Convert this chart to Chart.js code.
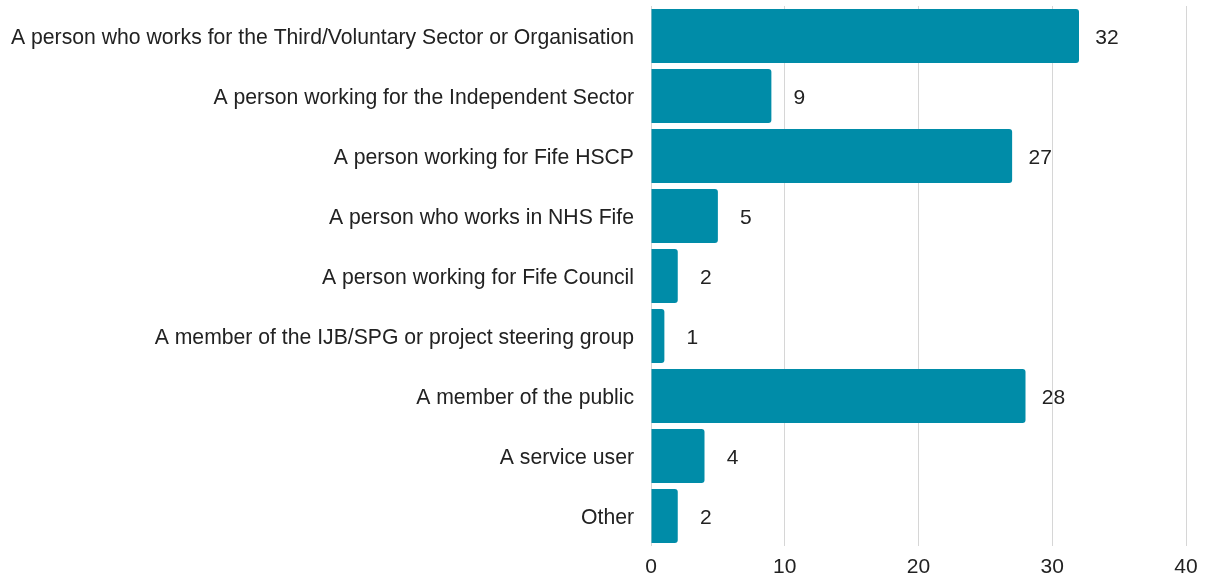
<!DOCTYPE html>
<html>
<head>
<meta charset="utf-8">
<script src="https://cdn.jsdelivr.net/npm/chart.js@4/dist/chart.umd.min.js"></script>
<style>
  html, body { margin: 0; padding: 0; background: #fff; }
  #wrap { width: 1210px; height: 583px; }
</style>
</head>
<body>
<div id="wrap"><canvas id="chart"></canvas></div>
<script>
const categories = [
  "A person who works for the Third/Voluntary Sector or Organisation",
  "A person working for the Independent Sector",
  "A person working for Fife HSCP",
  "A person who works in NHS Fife",
  "A person working for Fife Council",
  "A member of the IJB/SPG or project steering group",
  "A member of the public",
  "A service user",
  "Other"
];
const counts = [32, 9, 27, 5, 2, 1, 28, 4, 2];
const axisTicks = [0, 10, 20, 30, 40];

const FONT = "'Liberation Sans', Arial, sans-serif";

// value labels to the right of each bar
const valueLabels = {
  id: "valueLabels",
  afterDatasetsDraw(chart) {
    const ctx = chart.ctx;
    const meta = chart.getDatasetMeta(0);
    ctx.save();
    ctx.font = "21px " + FONT;
    ctx.fillStyle = "#222";
    ctx.textAlign = "center";
    ctx.textBaseline = "middle";
    meta.data.forEach((bar, i) => {
      ctx.fillText(String(counts[i]), bar.x + 28, bar.y + 2);
    });
    ctx.restore();
  }
};

new Chart(document.getElementById("chart"), {
  type: "bar",
  data: {
    labels: categories,
    datasets: [{
      data: counts,
      backgroundColor: "#008ca8",
      borderRadius: 3,
      barPercentage: 0.9,
      categoryPercentage: 1.0
    }]
  },
  options: {
    indexAxis: "y",
    responsive: true,
    maintainAspectRatio: false,
    animation: false,
    layout: { padding: { top: 6, right: 24, bottom: 0, left: 0 } },
    plugins: {
      legend: { display: false },
      tooltip: { enabled: false }
    },
    scales: {
      x: {
        min: 0,
        max: 40,
        afterBuildTicks(scale) {
          scale.ticks = axisTicks.map((v) => ({ value: v }));
        },
        afterFit(scale) {
          scale.height = 37;
          scale.paddingLeft = 0;
          scale.paddingRight = 0;
        },
        grid: { color: "#d6d6d6", drawTicks: false },
        border: { display: false },
        ticks: {
          padding: 9,
          color: "#222",
          font: { family: FONT, size: 21 }
        }
      },
      y: {
        afterFit(scale) {
          scale.width = 651;
          scale.paddingTop = 0;
          scale.paddingBottom = 0;
        },
        grid: { display: false },
        border: { display: false },
        ticks: {
          padding: 9,
          labelOffset: 2,
          color: "#222",
          font: { family: FONT, size: 21.2 }
        }
      }
    }
  },
  plugins: [valueLabels]
});
</script>
</body>
</html>
